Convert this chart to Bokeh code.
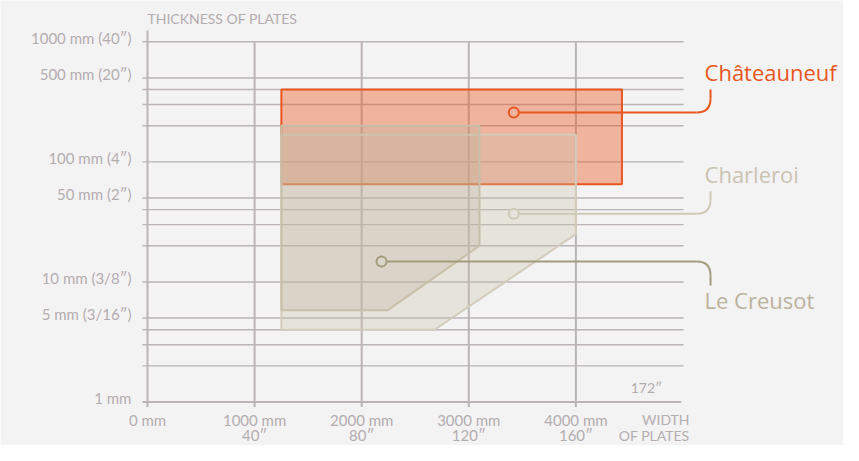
from bokeh.plotting import figure
from bokeh.models import Range1d
from bokeh.embed import file_html
from bokeh.resources import INLINE
from bokeh.core.properties import value

# ---------------- data ----------------
x_ticks = [0, 1000, 2000, 3000, 4000]
x_tick_labels_mm = ["0 mm", "1000 mm", "2000 mm", "3000 mm", "4000 mm"]
x_tick_labels_in = ["", "40″", "80″", "120″", "160″"]
y_major = [1, 5, 10, 50, 100, 500, 1000]
y_major_labels = ["1 mm", "5 mm (3/16″)", "10 mm (3/8″)", "50 mm (2″)",
                  "100 mm (4″)", "500 mm (20″)", "1000 mm (40″)"]
y_minor = [2, 3, 4, 20, 30, 40, 200, 300, 400]

series = ["Châteauneuf", "Charleroi", "Le Creusot"]
chateauneuf_x = [1250, 4430, 4430, 1250]
chateauneuf_y = [400, 400, 65, 65]
charleroi_x = [1250, 4000, 4000, 2680, 1250]
charleroi_y = [168, 168, 25, 4, 4]
lecreusot_x = [1250, 3100, 3100, 2240, 1250]
lecreusot_y = [200, 200, 20, 5.8, 5.8]
marker_x = [3420, 3420, 2185]
marker_y = [258, 37, 14.8]
callout_end_y = [400, 57, 9.34]

# ---------------- style / layout ----------------
BG = "#F3F3F3"
GRID = "#BAB4B7"
TXT = "#B3ADB0"
ORANGE = "#E9561E"
FONT = "Lato"
LFONT = "Open Sans"
series_text_colors = [ORANGE, "#CBC3B2", "#BBB29D"]
callout_colors = [ORANGE, "#D0C9B7", "#A39B80"]
marker_fills = ["#EFB39D", "#E6E3DC", "#DAD5C9"]
elbow_x = 5257
r_x = 130
r_y = 1.308
grid_right = 5005
axis_right = 4983
y_top = 1242
tick_left = -47            # 5 px left of the y axis
tick_low = 0.909           # 5 px below the 1 mm line
ylab_x = -150
label_x = 5201
label_y = [557, 79.6, 7.05]
xlab_y1 = 0.7148
xlab_y2 = 0.526

p = figure(width=843, height=445, output_backend="svg", toolbar_location=None,
           x_range=Range1d(-1372.5, 6498.6), y_range=Range1d(0.4342, 2207.5),
           y_axis_type="log",
           min_border_left=0, min_border_right=0, min_border_top=0, min_border_bottom=0,
           background_fill_color=BG, border_fill_color=BG, outline_line_color=None)
p.xgrid.visible = False
p.ygrid.visible = False
p.xaxis.visible = False
p.yaxis.visible = False

# horizontal grid lines with their ticks
h_lines = [v for v in y_major + y_minor if v != 1]
p.segment(x0=[tick_left] * len(h_lines), y0=h_lines, x1=[grid_right] * len(h_lines),
          y1=h_lines, line_color=GRID, line_width=1.4)
# vertical grid lines with their ticks
v_lines = [v for v in x_ticks if v != 0]
p.segment(x0=v_lines, y0=[tick_low] * len(v_lines), x1=v_lines, y1=[1000] * len(v_lines),
          line_color=GRID, line_width=2)

# axes lines
p.segment(x0=[tick_left], y0=[1], x1=[axis_right], y1=[1], line_color=GRID, line_width=2)
p.segment(x0=[0], y0=[tick_low], x1=[0], y1=[y_top], line_color=GRID, line_width=2)

# tick labels
p.text(x=x_ticks, y=[xlab_y1] * len(x_ticks), text=x_tick_labels_mm, text_color=TXT,
       text_font=value(FONT), text_font_size="15px", text_align="center",
       text_baseline="middle")
p.text(x=x_ticks, y=[xlab_y2] * len(x_ticks), text=x_tick_labels_in, text_color=TXT,
       text_font=value(FONT), text_font_size="15px", text_align="center",
       text_baseline="middle")
p.text(x=[ylab_x] * len(y_major), y=y_major, text=y_major_labels, text_color=TXT,
       text_font=value(FONT), text_font_size="15px", text_align="right",
       text_baseline="middle", y_offset=-4)

# shapes
p.patch(chateauneuf_x, chateauneuf_y, fill_color="#EA5A28", fill_alpha=0.42,
        line_color=ORANGE, line_width=2)
p.patch(charleroi_x, charleroi_y, fill_color="#C9C0A9", fill_alpha=0.32,
        line_color="#D3CCBB", line_width=2)
p.patch(lecreusot_x, lecreusot_y, fill_color="#BDB399", fill_alpha=0.3,
        line_color="#C8BFA9", line_width=2)

# callouts
for i in range(3):
    up = callout_end_y[i] > marker_y[i]
    yc = marker_y[i] * (r_y if up else 1 / r_y)
    p.segment(x0=[marker_x[i]], y0=[marker_y[i]], x1=[elbow_x - r_x], y1=[marker_y[i]],
              line_color=callout_colors[i], line_width=2)
    p.quadratic(x0=[elbow_x - r_x], y0=[marker_y[i]], x1=[elbow_x], y1=[yc],
                cx=[elbow_x], cy=[marker_y[i]], line_color=callout_colors[i], line_width=2)
    p.segment(x0=[elbow_x], y0=[yc], x1=[elbow_x], y1=[callout_end_y[i]],
              line_color=callout_colors[i], line_width=2)

p.scatter(marker_x, marker_y, marker="circle", size=10, fill_color=marker_fills,
          line_color=callout_colors, line_width=2)

p.text(x=[label_x] * 3, y=label_y, text=series, text_color=series_text_colors,
       text_font=value(LFONT), text_font_size="22px", text_baseline="middle",
       text_align="left")

# titles / notes
p.text(x=[0], y=[1578], text=["THICKNESS OF PLATES"], text_color=TXT,
       text_font=value(FONT), text_font_size="14px", text_baseline="middle",
       text_align="left")
p.text(x=[5061, 5061], y=[xlab_y1, xlab_y2], text=["WIDTH", "OF PLATES"], text_color=TXT,
       text_font=value(FONT), text_font_size="14px", text_baseline="middle",
       text_align="right")
p.text(x=[4659], y=[1.308], text=["172″"], text_color=TXT,
       text_font=value(FONT), text_font_size="14px", text_baseline="middle",
       text_align="center")

open("out.html", "w").write(file_html(p, INLINE))
